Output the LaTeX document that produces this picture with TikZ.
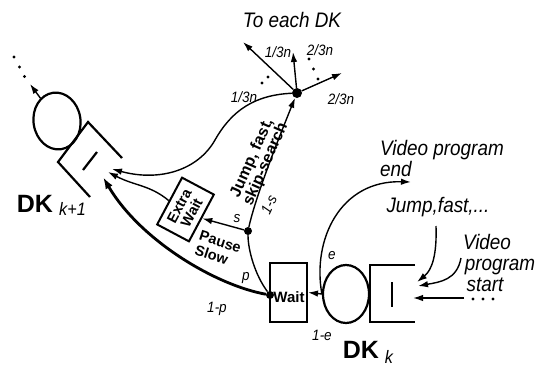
\documentclass[tikz,border=0pt]{standalone}
\usepackage{fontspec}
\setmainfont{Liberation Sans}
\newfontfamily\cnd[FakeStretch=0.9]{Liberation Sans}
\usetikzlibrary{arrows.meta,shapes.geometric}
\newcommand\itbig{\cnd\itshape\fontsize{21}{21}\selectfont}
\newcommand\itsmall{\cnd\itshape\fontsize{15}{15}\selectfont}
\newcommand\bdsmall{\bfseries\fontsize{14.5}{15}\selectfont}
\begin{document}
\begin{tikzpicture}[x=1pt,y=-1pt,
  thinl/.style={line width=1.4pt},
  arr/.style={thinl,-{Latex[length=10pt,width=6.5pt]}},
  arrthick/.style={line width=2.8pt,-{Latex[length=12pt,width=8pt]}},
  shapeline/.style={line width=2.2pt},
  dot/.style={circle,fill,inner sep=0pt,minimum size=#1},
  dot/.default=8pt,
  lab/.style={font=\itsmall,anchor=base,inner sep=0pt},
  big/.style={font=\itbig,inner sep=0pt},
  dkfont/.style={font=\bfseries\fontsize{25}{25}\selectfont,anchor=base,inner sep=0pt},
  subfont/.style={font=\cnd\itshape\fontsize{18}{18}\selectfont,anchor=base,inner sep=0pt}
]
\useasboundingbox (0,0) rectangle (550,367);

% ---------- DK_k ----------
\node[ellipse,draw,shapeline,minimum width=46pt,minimum height=58pt,inner sep=0pt] (ck) at (346,294) {};
\draw[shapeline] (415,265) -- (370,265) -- (370,322) -- (415,322);
\draw[shapeline] (392,282) -- (392,307);
\node[dkfont] (dkk) at (361,358) {DK};
\node[subfont] (dkks) at (389,363) {k};

% Wait box
\node[draw,line width=2pt,minimum width=37pt,minimum height=59pt,inner sep=0pt] (wb) at (288.5,292.5) {};
\node[font=\bfseries\fontsize{15}{15}\selectfont,inner sep=0pt] (wt) at (289,297) {Wait};
\node[dot] (wd) at (270,295) {};

% ---------- DK_{k+1} ----------
\node[ellipse,draw,shapeline,rotate=8,minimum width=47pt,minimum height=57pt,inner sep=0pt] (ck1) at (57,121) {};
\draw[shapeline] (122,158) -- (88,122) -- (58,162) -- (90,197);
\draw[shapeline] (97,152) -- (83,170);
\node[dkfont] (dk1) at (35,212) {DK};
\node[subfont] (dk1s) at (72.5,215) {k+1};
\coordinate (o1) at (30,84);
\draw[arr] (ck1.118) -- (o1);
\fill (14,57) circle (1.7pt) (19.5,67) circle (1.7pt) (24.5,76.5) circle (1.7pt);

% ---------- Extra wait ----------
\node[draw,line width=2pt,rotate=62,minimum width=53pt,minimum height=36pt,inner sep=1pt,align=center,font=\bdsmall] (ew) at (185.5,209.5) {Extra\\[-1pt]Wait};
\node[font=\bdsmall,align=left,rotate=-18,inner sep=0pt] (ps) at (218,249) {Pause\\Slow};

% ---------- hub ----------
\node[dot=10pt] (hub) at (297,93) {};
\node[dot] (sd) at (248,231) {};
\coordinate (sp1) at (243,42);
\coordinate (sp2) at (293,52);
\coordinate (sp3) at (342,73);
\draw[arr] (hub) -- (sp1);
\draw[arr] (hub) -- (sp2);
\draw[arr] (hub) -- (sp3);
\fill (309,59) circle (1.7pt) (313.5,69) circle (1.7pt) (318,79) circle (1.7pt);
\fill (262,83) circle (1.7pt) (268,77) circle (1.7pt);

\node[font=\itbig,anchor=base,inner sep=0pt] (ted) at (292,27) {To each DK};
\node[lab] (l13a) at (278,57) {1/3n};
\node[lab] (l23a) at (320,55) {2/3n};
\node[lab] (l23b) at (341,104) {2/3n};
\node[lab] (l13b) at (244,102) {1/3n};

\node[font=\bfseries\fontsize{16}{15}\selectfont,align=center,rotate=66,inner sep=0pt] (jfs) at (259,161) {Jump, fast,\\skip-search};
\node[font=\itsmall,rotate=65,inner sep=0pt] (l1s) at (269,205) {1-s};
\node[lab] (ls) at (237,222) {s};
\node[lab] (lp) at (246,280) {p};
\node[lab] (l1p) at (217,312) {1-p};
\node[lab] (le) at (332,259) {e};
\node[lab] (l1e) at (322,340) {1-e};

% targets on DK_{k+1} queue
\coordinate (q1) at (112,169);
\coordinate (q2) at (108,172);
\coordinate (q3) at (103,177);

% connectors
\draw[arr] (ck.west) -- (wb.east);
\draw[arrthick] (wd) .. controls (215,285) and (140,240) .. (q3);
\draw[thinl] (wd) .. controls (255,275) and (248,250) .. (sd);
\draw[arr] (sd) .. controls (256,195) and (280,135) .. (hub);
\draw[arr] (sd) -- (ew.south);
\draw[arr] (ew.north) .. controls (150,185) and (135,186) .. (q2);
\draw[arr] (hub) .. controls (255,95) and (232,110) .. (215,140) .. controls (198,170) and (160,182) .. (q1);

% e curve
\coordinate (ee) at (411,182);
\draw[arr] (ck.west) .. controls (312,240) and (340,180) .. (ee);

% right-hand texts
\node[big,anchor=base west] (vpe1) at (380,155) {Video program};
\node[big,anchor=base west] (vpe2) at (380,176) {end};
\node[big,anchor=base] (jf) at (438,212) {Jump,fast,...};
\node[big,anchor=base] (vs1) at (487,249) {Video};
\node[big,anchor=base] (vs2) at (500,270) {program};
\node[big,anchor=base] (vs3) at (485,291) {start};

\coordinate (qk1) at (417,282);
\coordinate (qk2) at (418,286);
\coordinate (qk3) at (413,298);
\coordinate (vps) at (461,258);
\coordinate (jfs0) at (436,226);
\coordinate (dd) at (464,298);
\draw[arr] (jfs0) .. controls (437,255) and (432,270) .. (qk1);
\draw[arr] (vps) .. controls (457,280) and (440,282) .. (qk2);
\draw[arr] (dd) -- (qk3);
\fill (473,299) circle (1.6pt) (483,299) circle (1.6pt) (493,299) circle (1.6pt);
\end{tikzpicture}
\end{document}
